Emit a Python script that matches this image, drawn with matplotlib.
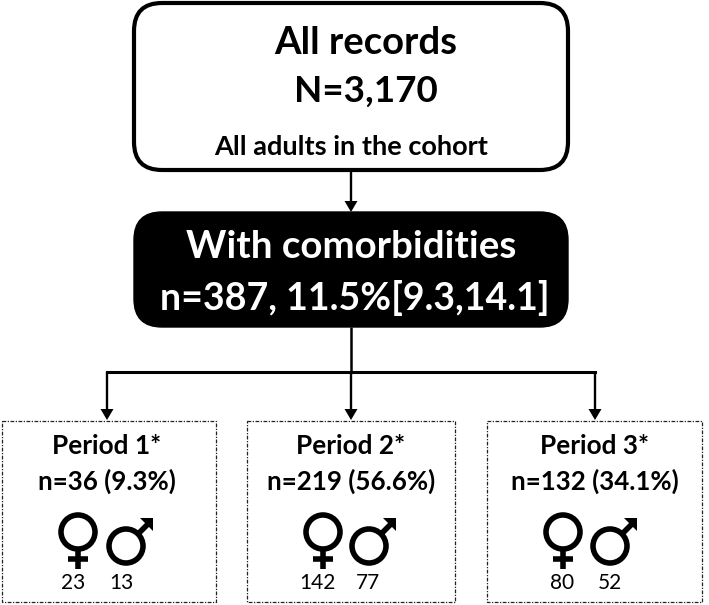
import matplotlib
matplotlib.use("Agg")
import matplotlib.pyplot as plt
from matplotlib.patches import FancyBboxPatch, Rectangle, Circle

plt.rcParams['font.family'] = ['Lato', 'DejaVu Sans']

periods = ["Period 1*", "Period 2*", "Period 3*"]
counts = ["n=36 (9.3%)", "n=219 (56.6%)", "n=132 (34.1%)"]
women = [23, 142, 80]
men = [13, 77, 52]

# box edges in image pixels
box_left = [2, 247, 487]
box_right = [216, 455, 702]
box_mid = [107, 351, 595]
women_x = [78, 323, 563]
men_x = [126, 369, 610]
women_lab = [73, 317, 562]
men_lab = [121, 368, 610]

fig = plt.figure(figsize=(7.09, 6.05), dpi=100)
ax = fig.add_axes([0, 0, 1, 1])
ax.set_xlim(0, 709)
ax.set_ylim(605, 0)
ax.axis('off')


def round_box(x0, y0, x1, y1, face, lw):
    ax.add_patch(FancyBboxPatch((x0 + 28, y0 + 28), x1 - x0 - 56, y1 - y0 - 56,
                                boxstyle="round,pad=28,rounding_size=28",
                                fc=face, ec='black', lw=lw))


def arrow(x, y0, y1):
    ax.plot([x, x], [y0, y1 - 9], color='black', lw=1.7, solid_capstyle='butt')
    ax.fill([x - 6.5, x + 6.5, x], [y1 - 11, y1 - 11, y1], color='black', lw=0)


round_box(134, 3, 568, 170, 'white', 3)
ax.text(366, 43, "All records", ha='center', va='center', fontsize=27.5, fontweight='bold')
ax.text(366, 91, "N=3,170", ha='center', va='center', fontsize=26.5, fontweight='bold')
ax.text(351, 147, "All adults in the cohort", ha='center', va='center', fontsize=19.5, fontweight='bold')

arrow(351, 170, 212)

round_box(134, 212, 568, 327, 'black', 1)
ax.text(351, 247, "With comorbidities", ha='center', va='center', fontsize=27.7,
        fontweight='bold', color='white')
ax.text(355, 298, "n=387, 11.5%[9.3,14.1]", ha='center', va='center', fontsize=27,
        fontweight='bold', color='white')

ax.plot([351, 351], [327, 372], color='black', lw=1.8, solid_capstyle='butt')
ax.plot([box_mid[0], box_mid[2]], [372, 372], color='black', lw=2.2)

for i in range(3):
    arrow(box_mid[i], 372, 420)
    ax.add_patch(Rectangle((box_left[i], 421), box_right[i] - box_left[i], 181,
                           fc='white', ec='#222222', lw=0.9, ls=(0, (3, 1.2, 1, 1.2))))
    ax.text(box_mid[i], 446, periods[i], ha='center', va='center', fontsize=18.8, fontweight='bold')
    ax.text(box_mid[i], 481, counts[i], ha='center', va='center', fontsize=18.6, fontweight='bold')

    # female sign
    fx = women_x[i]
    ax.add_patch(Circle((fx, 532), 17, fc='none', ec='black', lw=4))
    ax.plot([fx, fx], [549, 569], color='black', lw=4, solid_capstyle='butt')
    ax.plot([fx - 10, fx + 10], [559, 559], color='black', lw=4, solid_capstyle='butt')

    # male sign
    mx = men_x[i]
    ax.add_patch(Circle((mx, 546), 17, fc='none', ec='black', lw=4))
    ax.plot([mx + 12, mx + 24], [534, 522], color='black', lw=4, solid_capstyle='butt')
    ax.fill([mx + 14, mx + 27, mx + 27], [518, 518, 531], color='black', lw=0)

    ax.text(women_lab[i], 583, str(women[i]), ha='center', va='center', fontsize=15)
    ax.text(men_lab[i], 583, str(men[i]), ha='center', va='center', fontsize=15)

fig.savefig("out.png", dpi=100)
